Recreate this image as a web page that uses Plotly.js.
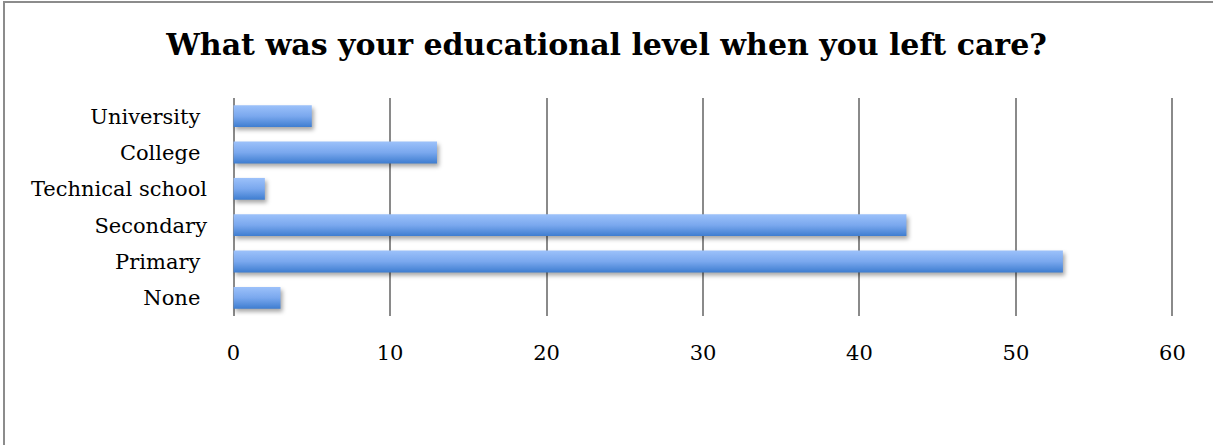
<!DOCTYPE html>
<html>
<head>
<meta charset="utf-8">
<script src="https://cdn.plot.ly/plotly-3.0.1.min.js"></script>
<style>
  html, body { margin: 0; padding: 0; background: #fff; }
  #chart { width: 1213px; height: 445px; position: relative; }
  #frame { position: absolute; left: 3px; top: 1px; width: 1220px; height: 460px;
           border-left: 2px solid #8c8c8c; border-top: 2px solid #8c8c8c; pointer-events: none; }
</style>
</head>
<body>
<div id="chart"></div>
<script>
// Education level of respondents at the time they left care
const levels = ['None\u00a0', 'Primary\u00a0', 'Secondary', 'Technical school', 'College\u00a0', 'University\u00a0'];
const counts = [3, 53, 43, 2, 13, 5];
const xTicks = [0, 10, 20, 30, 40, 50, 60];

const serif = '"DejaVu Serif", "Liberation Serif", serif';

const trace = {
  type: 'bar',
  orientation: 'h',
  y: levels,
  x: counts,
  marker: { color: '#6a9be6', line: { width: 0 } },
  hoverinfo: 'x+y'
};

const layout = {
  width: 1213,
  height: 445,
  margin: { l: 232, r: 39, t: 98, b: 129 },
  paper_bgcolor: '#fff',
  plot_bgcolor: '#fff',
  bargap: 0.4,
  showlegend: false,
  title: {
    text: '<b>What was your educational level when you left care?</b>',
    font: { family: serif, size: 30, color: '#000' },
    x: 0.5, xanchor: 'center', y: 0.9, yanchor: 'middle'
  },
  xaxis: {
    // padded slightly so the gridlines at 0 and 60 stay visible
    range: [-0.1, 60.1],
    tickvals: xTicks,
    ticktext: xTicks.map(String),
    showgrid: true,
    gridcolor: '#8a8a8a',
    gridwidth: 2,
    zeroline: true,
    zerolinecolor: '#8a8a8a',
    zerolinewidth: 2,
    showline: false,
    ticks: '',
    ticklabelstandoff: 22,
    tickfont: { family: serif, size: 21, color: '#000' },
    fixedrange: true
  },
  yaxis: {
    type: 'category',
    categoryorder: 'array',
    categoryarray: levels,
    showgrid: false,
    zeroline: false,
    showline: false,
    ticks: '',
    ticklabelstandoff: 24,
    tickfont: { family: serif, size: 21, color: '#000' },
    fixedrange: true
  }
};

Plotly.newPlot('chart', [trace], layout, { displayModeBar: false, staticPlot: true }).then(function (gd) {
  // vertical shading on the bars and a soft drop shadow
  const svg = gd.querySelector('svg.main-svg');
  const ns = 'http://www.w3.org/2000/svg';
  let defs = svg.querySelector('defs');
  if (!defs) { defs = document.createElementNS(ns, 'defs'); svg.insertBefore(defs, svg.firstChild); }
  const grad = document.createElementNS(ns, 'linearGradient');
  grad.setAttribute('id', 'barShade');
  grad.setAttribute('x1', '0'); grad.setAttribute('y1', '0');
  grad.setAttribute('x2', '0'); grad.setAttribute('y2', '1');
  [['0', '#9cc1fa'], ['0.5', '#7aa8ee'], ['1', '#3e7dd0']].forEach(function (s) {
    const stop = document.createElementNS(ns, 'stop');
    stop.setAttribute('offset', s[0]);
    stop.setAttribute('stop-color', s[1]);
    grad.appendChild(stop);
  });
  defs.appendChild(grad);
  gd.querySelectorAll('.trace.bars .point path').forEach(function (p) {
    p.style.fill = 'url(#barShade)';
    p.style.filter = 'drop-shadow(2px 3px 2px rgba(0,0,0,0.35))';
  });
});
</script>
<div id="frame"></div>
</body>
</html>
